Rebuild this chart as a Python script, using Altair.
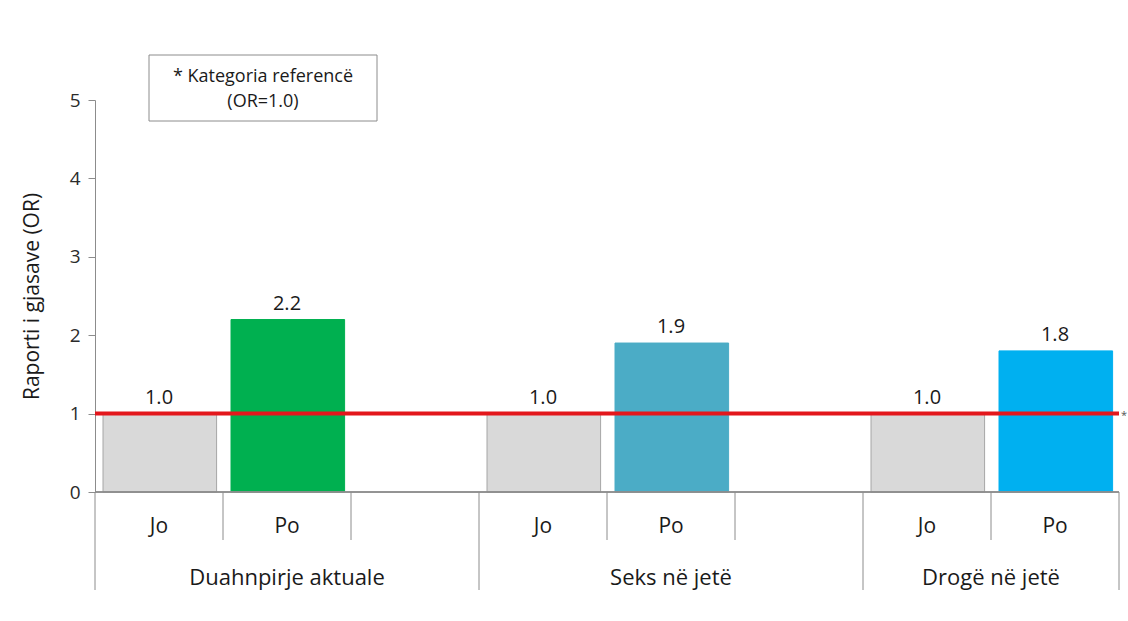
import altair as alt
import pandas as pd

# Odds ratios (OR) by group and answer; "Jo" is the reference category
groups = ["Duahnpirje aktuale", "Seks në jetë", "Drogë në jetë"]
levels = ["Jo", "Po"]
odds = [1.0, 2.2, 1.0, 1.9, 1.0, 1.8]
bar_colors = ["#d9d9d9", "#00b050", "#d9d9d9", "#4bacc6", "#d9d9d9", "#00b0f0"]
bar_strokes = ["#a6a6a6", "#00b050", "#a6a6a6", "#4bacc6", "#a6a6a6", "#00b0f0"]
slots_per_group = [3, 3, 2]
y_ticks = [0, 1, 2, 3, 4, 5]
reference_or = 1.0

FONT = "Open Sans"
W, H = 1024, 392

# Lay out one slot per answer, with a spare slot after each group but the last
rows, group_rows, start = [], [], 0
for g, name in enumerate(groups):
    for l, lev in enumerate(levels):
        i = g * len(levels) + l
        rows.append({"group": name, "level": lev, "slot": start + l,
                     "or": odds[i], "fill": bar_colors[i], "edge": bar_strokes[i]})
    group_rows.append({"group": name, "start": start, "end": start + slots_per_group[g]})
    start += slots_per_group[g]
n_slots = start

bars_df = pd.DataFrame(rows)
groups_df = pd.DataFrame(group_rows)
slot_edges = sorted({r["slot"] for r in rows} | {r["slot"] + 1 for r in rows})
group_edges = sorted(set(groups_df["start"]) | set(groups_df["end"]))
short_df = pd.DataFrame({"pos": [e for e in slot_edges if e not in group_edges]})
long_df = pd.DataFrame({"pos": group_edges})

xs = alt.Scale(domain=[0, n_slots], nice=False, zero=False)
ys = alt.Scale(domain=[0, 5], nice=False)

base = alt.Chart(bars_df).transform_calculate(
    x0="datum.slot + 0.0625", x1="datum.slot + 0.95", mid="datum.slot + 0.5"
)

bars = base.mark_bar(strokeWidth=1).encode(
    x=alt.X("x0:Q", scale=xs, axis=None),
    x2="x1:Q",
    y=alt.Y("or:Q", scale=ys,
            axis=alt.Axis(values=y_ticks, format="d", title="Raporti i gjasave (OR)",
                          grid=False, domainColor="#8c8c8c", tickColor="#8c8c8c",
                          tickSize=7, labelFontSize=19, labelColor="#2b2b2b",
                          labelFont=FONT, labelPadding=8, titleFont=FONT,
                          titleFontSize=21, titleFontWeight="normal",
                          titleColor="#1a1a1a", titlePadding=27)),
    y2=alt.datum(0),
    fill=alt.Fill("fill:N", scale=None),
    stroke=alt.Stroke("edge:N", scale=None),
)

values = base.mark_text(baseline="bottom", dy=-6, fontSize=20, font=FONT,
                        color="#1a1a1a").encode(
    x=alt.X("mid:Q", scale=xs), y=alt.Y("or:Q", scale=ys),
    text=alt.Text("or:Q", format=".1f"),
)

level_labels = base.mark_text(fontSize=21, font=FONT, color="#1a1a1a",
                              baseline="middle").encode(
    x=alt.X("mid:Q", scale=xs), y=alt.value(H + 35), text="level:N",
)

baseline = alt.Chart(long_df).mark_rule(color="#8c8c8c", strokeWidth=1).encode(
    x=alt.datum(0, scale=xs), x2=alt.datum(n_slots), y=alt.value(H),
)

short_ticks = alt.Chart(short_df).mark_rule(color="#8c8c8c", strokeWidth=1).encode(
    x=alt.X("pos:Q", scale=xs), y=alt.value(H), y2=alt.value(H + 48),
)
long_ticks = alt.Chart(long_df).mark_rule(color="#8c8c8c", strokeWidth=1).encode(
    x=alt.X("pos:Q", scale=xs), y=alt.value(H), y2=alt.value(H + 98),
)

group_labels = alt.Chart(groups_df).transform_calculate(
    mid="(datum.start + datum.end) / 2"
).mark_text(fontSize=22, font=FONT, color="#1a1a1a", baseline="middle").encode(
    x=alt.X("mid:Q", scale=xs), y=alt.value(H + 86), text="group:N",
)

ref_df = pd.DataFrame({"or": [reference_or], "mark": ["*"]})
ref_line = alt.Chart(ref_df).mark_rule(color="#e3171c", strokeWidth=4).encode(
    x=alt.datum(0, scale=xs), x2=alt.datum(n_slots), y=alt.Y("or:Q", scale=ys),
)
# asterisk flagging the reference line at its right end
ref_star = alt.Chart(ref_df).mark_text(fontSize=11, font=FONT, color="#555555",
                                       align="left", dx=2, dy=2).encode(
    x=alt.datum(n_slots, scale=xs), y=alt.Y("or:Q", scale=ys), text="mark:N",
)

note_df = pd.DataFrame({"line": ["* Kategoria referencë", "(OR=1.0)"], "row": [0, 1]})
note_box = alt.Chart(note_df.head(1)).mark_rect(fill="white", stroke="#8c8c8c",
                                                strokeWidth=1).encode(
    x=alt.value(54), x2=alt.value(282), y=alt.value(-45), y2=alt.value(21),
)
note_text = alt.Chart(note_df).transform_calculate(
    ty="-23 + datum.row * 25"
).mark_text(fontSize=18, font=FONT, color="#1a1a1a", baseline="middle").encode(
    x=alt.value(168), y=alt.Y("ty:Q", scale=None), text="line:N",
)

chart = alt.layer(
    bars, baseline, short_ticks, long_ticks, ref_line, ref_star, values,
    level_labels, group_labels, note_box, note_text,
).properties(
    width=W, height=H,
    padding={"left": 95, "top": 100, "right": 9, "bottom": 129},
    autosize=alt.AutoSizeParams(type="none"),
    background="white",
).configure_view(stroke=None)

chart.save("out.html", embed_options={"renderer": "svg", "actions": False})
